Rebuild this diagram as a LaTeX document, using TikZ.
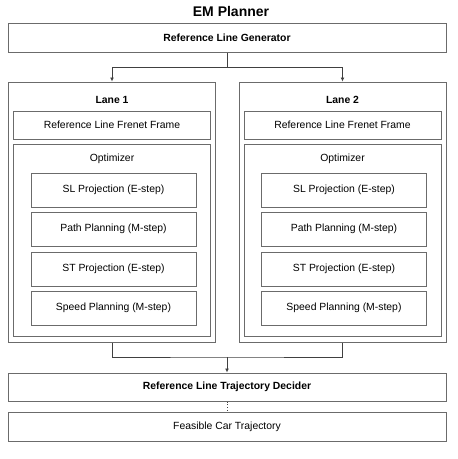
\documentclass[tikz,border=0pt]{standalone}
\usepackage{fontspec}
\setmainfont{Liberation Sans}
\usetikzlibrary{arrows.meta}
\definecolor{linegray}{gray}{0.42}
\tikzset{
  box/.style={draw=linegray, line width=1pt, inner sep=0pt, font=\fontsize{10.4}{12}\selectfont},
  conn/.style={draw=black!75, line width=0.8pt},
  arr/.style={conn, -{Latex[length=4pt,width=4pt]}}
}
\begin{document}
\begin{tikzpicture}[x=1pt,y=-1pt]
\useasboundingbox (0,0) rectangle (458,459);
\node[font=\bfseries\fontsize{14}{16}\selectfont] (title) at (231,11) {EM Planner};
\node[box, minimum width=438pt, minimum height=29pt, font=\bfseries\fontsize{10.4}{12}\selectfont] (gen) at (227,37.5) {Reference Line Generator};
% two lanes, same content
\foreach \n/\x in {1/112,2/342.5} {
  \node[box, minimum width=207pt, minimum height=260pt] (lane\n) at (\x,212) {};
  \node[font=\bfseries\fontsize{10.4}{12}\selectfont] (lbl\n) at (\x,100) {Lane \n};
  \node[box, minimum width=197pt, minimum height=28pt] (frenet\n) at (\x,125) {Reference Line Frenet Frame};
  \node[box, minimum width=197pt, minimum height=192pt] (opt\n) at (\x,240) {};
  \node[font=\fontsize{10.4}{12}\selectfont] (optlbl\n) at (\x,159) {Optimizer};
  \foreach \s/\y/\t in {sl/190/SL Projection (E-step),path/229/Path Planning (M-step),st/269/ST Projection (E-step),speed/308/Speed Planning (M-step)}
    \node[box, minimum width=165pt, minimum height=34pt] (\s\n) at (\x+1.5,\y) {\t};
}
\node[box, minimum width=438pt, minimum height=28pt, font=\bfseries\fontsize{10.4}{12}\selectfont] (dec) at (227,387) {Reference Line Trajectory Decider};
\node[box, minimum width=438pt, minimum height=29pt] (feas) at (227,426.5) {Feasible Car Trajectory};
\coordinate (split) at (227,67);
\coordinate (merge) at (227,357);
\draw[conn] (gen.south) -- (split);
\draw[arr] (split) -| (lane1.north);
\draw[arr] (split) -| (lane2.north);
\draw[conn] (lane1.south) |- (merge) -| (lane2.south);
\draw[arr] (merge) -- (dec.north);
\draw[conn, dotted] (dec.south) -- (feas.north);
\end{tikzpicture}
\end{document}
